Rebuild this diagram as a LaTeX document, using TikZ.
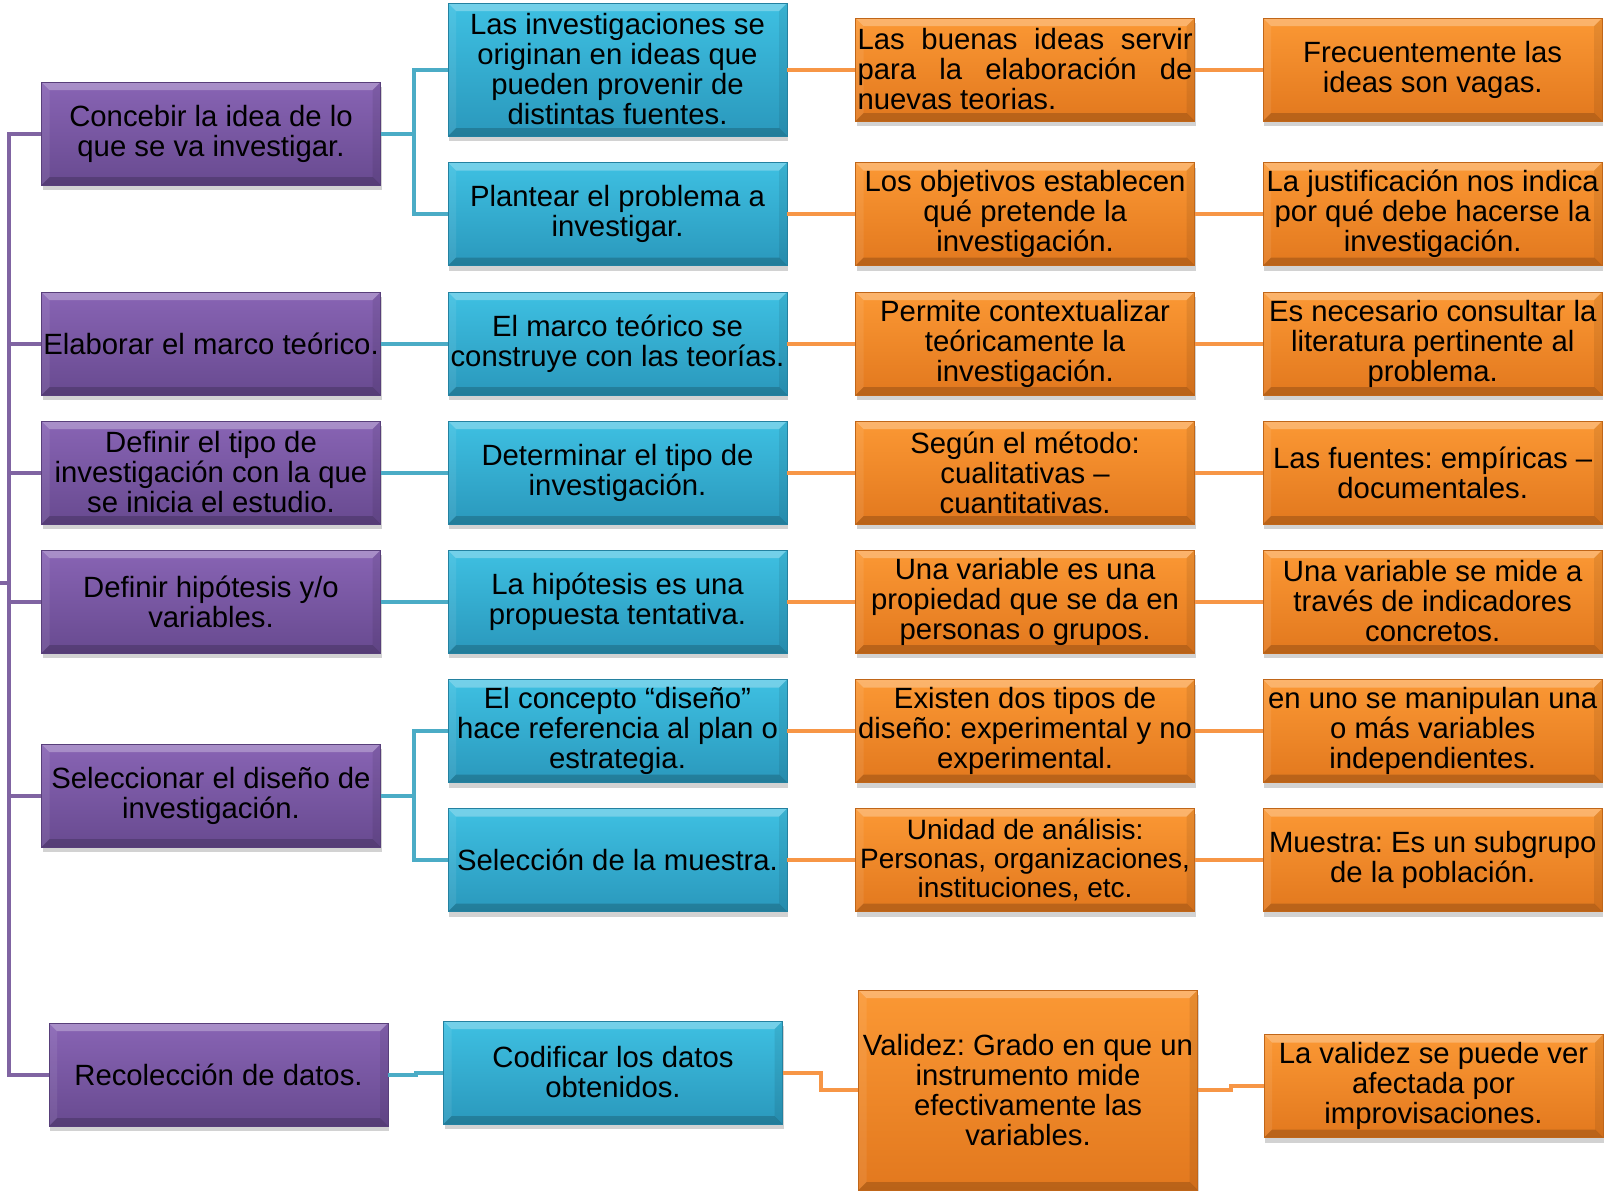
\documentclass[tikz,border=0pt]{standalone}
\usepackage{fontspec}
\setmainfont{Liberation Sans}
\usepackage{tikz}
\usetikzlibrary{positioning,calc,shadows}
\frenchspacing

\definecolor{ptop}{RGB}{136,100,180}
\definecolor{pbot}{RGB}{104,74,144}
\definecolor{btop}{RGB}{62,192,226}
\definecolor{bbot}{RGB}{42,152,188}
\definecolor{otop}{RGB}{251,152,52}
\definecolor{obot}{RGB}{226,120,30}
\definecolor{pline}{HTML}{8064A2}
\definecolor{bline}{HTML}{4BACC6}
\definecolor{oline}{HTML}{F79646}

\begin{document}
\begin{tikzpicture}[
    x=1pt, y=-1pt,
    node distance=68pt,
    bevel/.style={path picture={
        \fill[white, opacity=.28] (path picture bounding box.north west) -- (path picture bounding box.north east)
            -- ([shift={(-8pt,-8pt)}]path picture bounding box.north east) -- ([shift={(8pt,-8pt)}]path picture bounding box.north west) -- cycle;
        \fill[black, opacity=.18] (path picture bounding box.south west) -- (path picture bounding box.south east)
            -- ([shift={(-8pt,8pt)}]path picture bounding box.south east) -- ([shift={(8pt,8pt)}]path picture bounding box.south west) -- cycle;
        \fill[black, opacity=.08] (path picture bounding box.north east) -- (path picture bounding box.south east)
            -- ([shift={(-8pt,8pt)}]path picture bounding box.south east) -- ([shift={(-8pt,-8pt)}]path picture bounding box.north east) -- cycle;
        \fill[white, opacity=.08] (path picture bounding box.north west) -- (path picture bounding box.south west)
            -- ([shift={(8pt,8pt)}]path picture bounding box.south west) -- ([shift={(8pt,-8pt)}]path picture bounding box.north west) -- cycle;
    }},
    box/.style={minimum width=339pt, minimum height=103pt, inner sep=1pt, align=center,
        font=\fontsize{29.3}{30}\selectfont, line width=.6pt, bevel,
        drop shadow={shadow xshift=1pt, shadow yshift=-5pt, opacity=.35}},
    pbox/.style={box, top color=ptop, bottom color=pbot, draw=pbot!85!black},
    bbox/.style={box, top color=btop, bottom color=bbot, draw=bbot!85!black},
    obox/.style={box, top color=otop, bottom color=obot, draw=obot!85!black},
    elbow/.style={to path={-| ($(\tikztostart)!.5!(\tikztotarget)$) |- (\tikztotarget)}},
    plink/.style={pline, line width=4pt},
    blink/.style={bline, line width=4pt},
    olink/.style={oline, line width=4pt}
]
\fill[white] (0,0) rectangle (1607,1191);
\useasboundingbox (0,0) rectangle (1607,1191);

\node[pbox] (p1) at (211,133.5) {Concebir la idea de lo\\que se va investigar.};
\node[pbox] (p2) at (211,343.5) {Elaborar el marco teórico.};
\node[pbox] (p3) at (211,472.5) {Definir el tipo de\\investigación con la que\\se inicia el estudio.};
\node[pbox] (p4) at (211,601.5) {Definir hipótesis y/o\\variables.};
\node[pbox] (p5) at (211,795.5) {Seleccionar el diseño de\\investigación.};
\node[pbox] (p6) at (218.5,1074.5) {Recolección de datos.};

\node[bbox, minimum height=133pt] (b1) at (617.5,69.5) {Las investigaciones se\\originan en ideas que\\pueden provenir de\\distintas fuentes.};
\node[bbox] (b2) at (617.5,214) {Plantear el problema a\\investigar.};
\node[bbox] (b3) at (617.5,343.5) {El marco teórico se\\construye con las teorías.};
\node[bbox] (b4) at (617.5,472.5) {Determinar el tipo de\\investigación.};
\node[bbox] (b5) at (617.5,601.5) {La hipótesis es una\\propuesta tentativa.};
\node[bbox] (b6) at (617.5,731) {El concepto “diseño”\\hace referencia al plan o\\estrategia.};
\node[bbox] (b7) at (617.5,860) {Selección de la muestra.};
\node[bbox] (b8) at (613,1072.5) {Codificar los datos\\obtenidos.};

\node[obox, right=of b1, align=left] (o1) {\makebox[335pt][s]{Las buenas ideas servir}\\\makebox[335pt][s]{para la elaboración de}\\nuevas teorias.};
\node[obox, right=of b2] (o2) {Los objetivos establecen\\qué pretende la\\investigación.};
\node[obox, right=of b3] (o3) {Permite contextualizar\\teóricamente la\\investigación.};
\node[obox, right=of b4] (o4) {Según el método:\\cualitativas –\\cuantitativas.};
\node[obox, right=of b5] (o5) {Una variable es una\\propiedad que se da en\\personas o grupos.};
\node[obox, right=of b6] (o6) {Existen dos tipos de\\diseño: experimental y no\\experimental.};
\node[obox, right=of b7, font=\fontsize{28}{29}\selectfont] (o7) {Unidad de análisis:\\Personas, organizaciones,\\instituciones, etc.};
\node[obox, minimum height=200pt] (o8) at (1028,1090) {Validez: Grado en que un\\instrumento mide\\efectivamente las\\variables.};

\node[obox, right=of o1] (q1) {Frecuentemente las\\ideas son vagas.};
\node[obox, right=of o2] (q2) {La justificación nos indica\\por qué debe hacerse la\\investigación.};
\node[obox, right=of o3] (q3) {Es necesario consultar la\\literatura pertinente al\\problema.};
\node[obox, right=of o4] (q4) {Las fuentes: empíricas –\\documentales.};
\node[obox, right=of o5] (q5) {Una variable se mide a\\través de indicadores\\concretos.};
\node[obox, right=of o6] (q6) {en uno se manipulan una\\o más variables\\independientes.};
\node[obox, right=of o7] (q7) {Muestra: Es un subgrupo\\de la población.};
\node[obox] (q8) at (1433.5,1086) {La validez se puede ver\\afectada por\\improvisaciones.};

\coordinate (root) at (0,583);
\coordinate (trunk) at (9,583);
\draw[plink] (root) -- (trunk);
\foreach \n in {p1,p2,p3,p4,p5,p6}
    \draw[plink] (trunk) |- (\n.west);

\draw[blink] (p1.east) to[elbow] (b1.west);
\draw[blink] (p1.east) to[elbow] (b2.west);
\draw[blink] (p2.east) to[elbow] (b3.west);
\draw[blink] (p3.east) to[elbow] (b4.west);
\draw[blink] (p4.east) to[elbow] (b5.west);
\draw[blink] (p5.east) to[elbow] (b6.west);
\draw[blink] (p5.east) to[elbow] (b7.west);
\draw[blink] (p6.east) to[elbow] (b8.west);

\foreach \i in {1,...,8} {
    \draw[olink] (b\i.east) to[elbow] (o\i.west);
    \draw[olink] (o\i.east) to[elbow] (q\i.west);
}
\end{tikzpicture}
\end{document}
